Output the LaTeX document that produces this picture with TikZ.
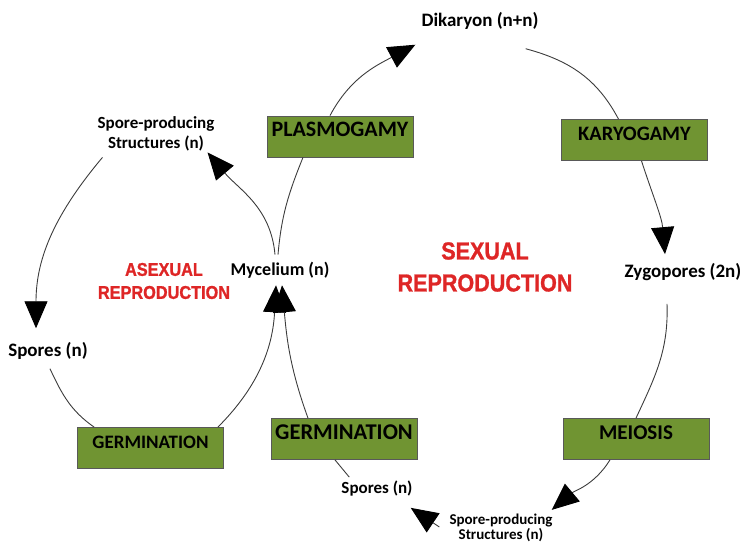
\documentclass[tikz,border=0pt]{standalone}
\usepackage{fontspec}
\setmainfont{Carlito}
\newfontfamily\headfont{Liberation Sans Bold}[FakeStretch=0.88,FakeBold=1.2]
\definecolor{stagegreen}{RGB}{112,148,50}
\definecolor{cyclered}{RGB}{222,38,38}
\definecolor{linegray}{RGB}{60,60,60}
\usetikzlibrary{arrows.meta,calc}

\begin{document}
\begin{tikzpicture}[x=1pt,y=1pt,
  stage/.style={draw=black!65,fill=stagegreen,line width=0.8pt,minimum width=146pt,
    inner xsep=0pt,inner ysep=0pt,text height=21pt,text depth=20pt,font=\bfseries\fontsize{22}{22}\selectfont},
  lbl/.style={font=\bfseries\fontsize{19}{20}\selectfont,align=center,inner sep=1pt},
  cycle/.style={text=cyclered,font=\headfont\fontsize{18.5}{23}\selectfont,align=center},
  link/.style={draw=linegray,line width=0.9pt},
  flow/.style={link,-{Triangle[length=27pt,width=23pt,black]}}]
\useasboundingbox (0,0) rectangle (744,543);
\node[stage] (plasmo) at (340,406.5) {PLASMOGAMY};
\node[stage,font=\bfseries\fontsize{20.5}{20}\selectfont] (karyo) at (634.5,403) {KARYOGAMY};
\node[stage,font=\bfseries\fontsize{21}{20}\selectfont] (meiosis) at (636,104) {MEIOSIS};
\node[stage,font=\bfseries\fontsize{22.5}{20}\selectfont] (germR) at (344,104) {GERMINATION};
\node[stage,font=\bfseries\fontsize{19}{20}\selectfont] (germL) at (150.5,95) {GERMINATION};
\node[lbl] (dikaryon) at (480,522) {Dikaryon (n+n)};
\node[lbl] (zygo) at (683,271) {Zygopores (2n)};
\node[lbl,font=\bfseries\fontsize{18}{20}\selectfont] (mycel) at (280,273) {Mycelium (n)};
\node[lbl] (sporesL) at (48,192) {Spores (n)};
\node[lbl,font=\bfseries\fontsize{17}{20}\selectfont] (sporesM) at (377,54) {Spores (n)};
\node[lbl,font=\bfseries\fontsize{17}{20}\selectfont] (sporeTop) at (156,409) {Spore-producing\\Structures (n)};
\node[lbl,font=\bfseries\fontsize{15}{15}\selectfont] (sporeBot) at (501,15) {Spore-producing\\Structures (n)};
\node[cycle] (asex) at (164,262) {ASEXUAL\\REPRODUCTION};
\node[cycle,font=\headfont\fontsize{24.5}{32}\selectfont] (sex) at (485,276) {SEXUAL\\REPRODUCTION};
% asexual cycle
\draw[flow] ($(mycel.north)+(-5,6)$) to[out=95,in=-50] ($(sporeTop.south east)+(-8,0)$);
\draw[flow] ($(sporeTop.south west)+(6,-5)$) to[out=230,in=90] ($(sporesL.north)+(-12,13)$);
\draw[link] ($(sporesL.south)+(2,-8)$) to[out=-65,in=145] ($(germL.north west)+(17,0)$);
\draw[flow] ($(germL.north east)+(-6,0)$) to[out=45,in=-93] ($(mycel.south)+(-4,-6)$);
% sexual cycle
\draw[flow] ($(germR.north)+(-36,0)$) to[out=110,in=-85] ($(mycel.south)+(2,-6)$);
\draw[link] ($(mycel.north)+(-2,6)$) to[out=85,in=-112] ($(plasmo.south)+(-37,0)$);
\draw[flow] ($(plasmo.north)+(-10,0)$) to[out=62,in=208] ($(dikaryon.south west)+(-5,-14)$);
\draw[link] ($(dikaryon.south east)+(-14,-18)$) to[out=-15,in=118] ($(karyo.north)+(-16,0)$);
\draw[flow] ($(karyo.south)+(7,0)$) to[out=-72,in=95] ($(zygo.north)+(-18,8)$);
\draw[link] ($(zygo.south)+(-16,-22)$) to[out=-88,in=65] (meiosis.north);
\draw[flow] ($(meiosis.south)+(-26,0)$) to[out=-122,in=40] ($(sporeBot.north east)+(-2,3)$);
\draw[flow] ($(sporeBot.west)+(-9,1)$) -- ($(sporesM.south east)+(-3,-10)$);
\draw[link] ($(sporesM.north west)+(9,3)$) -- ($(germR.south)+(-9,0)$);
\end{tikzpicture}
\end{document}
